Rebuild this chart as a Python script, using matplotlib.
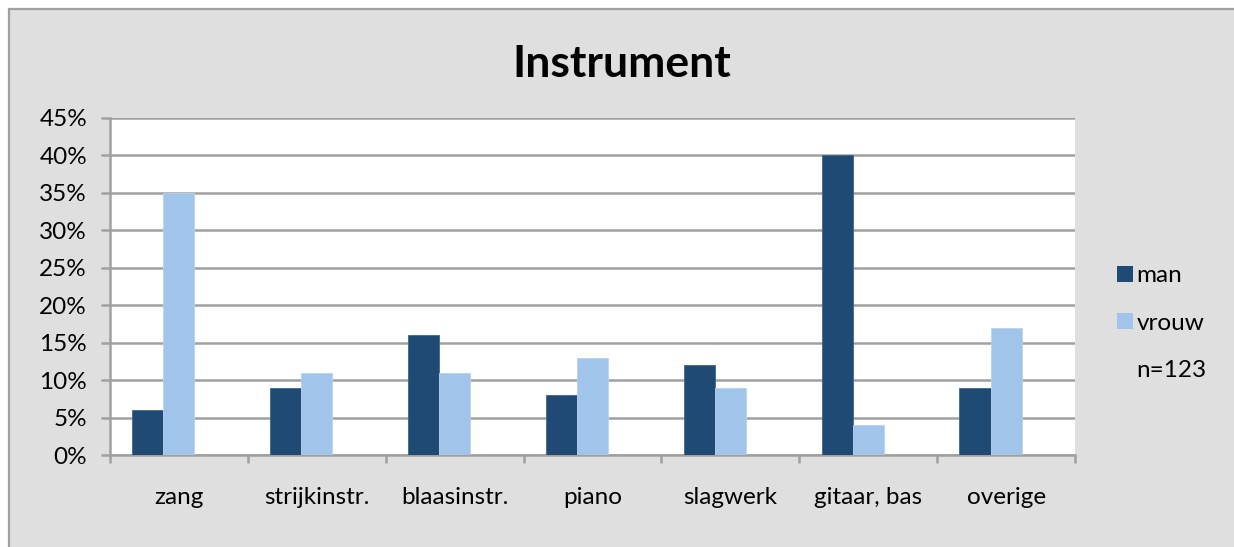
import matplotlib
matplotlib.use("Agg")
import matplotlib.pyplot as plt
import numpy as np
from matplotlib.patches import Rectangle, Patch
from matplotlib.ticker import FuncFormatter, FixedLocator

categories = ["zang", "strijkinstr.", "blaasinstr.", "piano", "slagwerk", "gitaar, bas", "overige"]
man = [6, 9, 16, 8, 12, 40, 9]
vrouw = [35, 11, 11, 13, 9, 4, 17]
series_labels = ["man", "vrouw", "n=123"]
title = "Instrument"

plt.rcParams['font.family'] = ['Lato', 'DejaVu Sans']

W, H = 1234, 547
fig = plt.figure(figsize=(W / 100, H / 100), dpi=100)
fig.patch.set_facecolor("white")
# chart area background with border on left/top
bg = Rectangle((9 / W, -0.05), 1.1, 1 - 9 / H + 0.05, transform=fig.transFigure,
               facecolor="#dfdfdf", edgecolor="#a0a0a0", linewidth=1.6, zorder=-10)
fig.patches.append(bg)

ax = fig.add_axes([110 / W, 1 - 455 / H, (1075 - 110) / W, (455 - 118) / H])
ax.set_facecolor("white")

x = np.arange(len(categories))
bw = 0.2255
dark = "#1f4a73"
light = "#a0c4ea"
ax.bar(x - bw, man, width=bw, color=dark, edgecolor="#3d6690", linewidth=0.6, zorder=3, label=series_labels[0])
ax.bar(x, vrouw, width=bw, color=light, edgecolor="#b8d3f0", linewidth=0.6, zorder=3, label=series_labels[1])

ax.set_xlim(-0.5, len(categories) - 0.5)
ax.set_ylim(0, 45)
ax.yaxis.set_major_locator(FixedLocator(np.arange(0, 46, 5)))
ax.yaxis.set_major_formatter(FuncFormatter(lambda v, p: f"{int(v)}%"))
ax.grid(axis="y", color="#a0a0a0", linewidth=1.8, zorder=1)
ax.set_axisbelow(True)

# x ticks at category boundaries, labels at centers
ax.set_xticks(np.arange(-0.5, len(categories), 1.0))
ax.set_xticklabels([])
ax.set_xticks(x, minor=True)
ax.set_xticklabels(categories, minor=True)
ax.tick_params(axis="x", which="major", length=6, width=1.8, color="#a0a0a0", direction="out")
ax.tick_params(axis="x", which="minor", length=0, pad=23, labelsize=17.5)
ax.tick_params(axis="y", length=6.5, width=1.8, color="#a0a0a0", labelsize=17.5, pad=10)

for s in ["top", "right"]:
    ax.spines[s].set_visible(False)
for s in ["left", "bottom"]:
    ax.spines[s].set_color("#a0a0a0")
    ax.spines[s].set_linewidth(1.8)

fig.text(622 / W, 1 - 64 / H, title, ha="center", va="center", fontsize=32, fontweight="bold")

handles = [Patch(facecolor=dark), Patch(facecolor=light), Patch(facecolor="none", edgecolor="none")]
leg = fig.legend(handles, series_labels, loc="center left", bbox_to_anchor=(1095 / W, 1 - 323 / H),
                 frameon=False, fontsize=17.5, handlelength=0.65, handleheight=0.65,
                 handletextpad=0.15, labelspacing=1.08)

fig.savefig("out.png", dpi=100, facecolor=fig.get_facecolor())
